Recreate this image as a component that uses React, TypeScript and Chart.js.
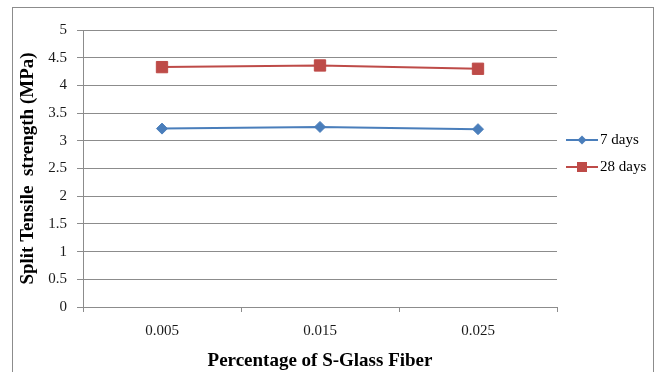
import React, { useEffect, useRef } from "react";
import { Chart, registerables } from "chart.js";

Chart.register(...registerables);

// Fibre dosage (fraction of volume) on the category axis
const fiberPercent = ["0.005", "0.015", "0.025"];

// Split tensile strength in MPa
const strength7Days = [3.22, 3.25, 3.21];
const strength28Days = [4.33, 4.36, 4.3];

const seriesNames = ["7 days", "28 days"];
const yTitle = "Split Tensile  strength (MPa)";
const xTitle = "Percentage of S-Glass Fiber";

const BLUE = "#4a7ebb";
const RED = "#be4b48";
const GRID = "#8c8c8c";
const SERIF = "'Liberation Serif', 'Times New Roman', serif";

// Excel-style legend: short line with the series marker on it, label to the right
const sideLegend = {
  id: "sideLegend",
  afterDraw(chart: any) {
    const { ctx, chartArea } = chart;
    const x0 = chartArea.right + 9;
    const x1 = chartArea.right + 41;
    const xm = (x0 + x1) / 2;
    chart.data.datasets.forEach((ds: any, i: number) => {
      const y = chartArea.top + 110 + i * 27;
      ctx.save();
      ctx.strokeStyle = ds.borderColor;
      ctx.lineWidth = 2;
      ctx.beginPath();
      ctx.moveTo(x0, y);
      ctx.lineTo(x1, y);
      ctx.stroke();
      ctx.fillStyle = ds.pointBackgroundColor;
      ctx.beginPath();
      if (ds.pointStyle === "rectRot") {
        const r = 4.5;
        ctx.moveTo(xm - r, y);
        ctx.lineTo(xm, y - r);
        ctx.lineTo(xm + r, y);
        ctx.lineTo(xm, y + r);
        ctx.closePath();
      } else {
        const s = 5;
        ctx.rect(xm - s, y - s, 2 * s, 2 * s);
      }
      ctx.fill();
      ctx.fillStyle = "#000";
      ctx.font = `15px ${SERIF}`;
      ctx.textAlign = "left";
      ctx.textBaseline = "middle";
      ctx.fillText(ds.label, x1 + 2, y);
      ctx.restore();
    });
  },
};

export default function App() {
  const canvasRef = useRef<HTMLCanvasElement | null>(null);

  useEffect(() => {
    const canvas = canvasRef.current;
    if (!canvas) return;
    const chart = new Chart(canvas, {
      type: "line",
      data: {
        labels: fiberPercent,
        datasets: [
          {
            label: seriesNames[0],
            data: strength7Days,
            borderColor: BLUE,
            backgroundColor: BLUE,
            pointBackgroundColor: BLUE,
            pointBorderColor: BLUE,
            pointStyle: "rectRot",
            pointRadius: 5.5,
            pointBorderWidth: 1,
            borderWidth: 2,
            tension: 0,
          },
          {
            label: seriesNames[1],
            data: strength28Days,
            borderColor: RED,
            backgroundColor: RED,
            pointBackgroundColor: RED,
            pointBorderColor: RED,
            pointStyle: "rect",
            pointRadius: 8,
            pointBorderWidth: 1,
            borderWidth: 2,
            tension: 0,
          },
        ],
      },
      options: {
        animation: false,
        responsive: false,
        maintainAspectRatio: false,
        layout: { padding: { left: 0, top: 30, right: 105, bottom: 0 } },
        plugins: {
          legend: { display: false },
          tooltip: { enabled: false },
        },
        scales: {
          x: {
            type: "category",
            offset: true,
            grid: {
              offset: true,
              drawOnChartArea: false,
              tickLength: 5,
              color: GRID,
              lineWidth: 1,
            },
            border: { display: true, color: GRID, width: 1 },
            ticks: {
              padding: 10,
              color: "#1a1a1a",
              font: { family: SERIF, size: 15 },
            },
            title: {
              display: true,
              text: xTitle,
              color: "#000",
              font: { family: SERIF, size: 19, weight: "bold" },
              padding: { top: 0, bottom: 0 },
            },
            afterFit(scale: any) {
              scale.height = 65;
            },
          },
          y: {
            min: 0,
            max: 5,
            ticks: {
              stepSize: 0.5,
              padding: 10,
              color: "#1a1a1a",
              font: { family: SERIF, size: 15 },
              callback: (v: any) => String(Number(v)),
            },
            grid: { color: GRID, lineWidth: 1, tickLength: 6 },
            border: { display: true, color: GRID, width: 1 },
            title: {
              display: true,
              text: yTitle,
              color: "#000",
              font: { family: SERIF, size: 19, weight: "bold" },
              padding: { top: 17, bottom: 0 },
            },
            afterFit(scale: any) {
              scale.width = 83;
            },
          },
        },
      },
      plugins: [sideLegend],
    });
    return () => chart.destroy();
  }, []);

  return (
    <div
      style={{
        position: "absolute",
        left: 0,
        top: 0,
        width: 662,
        height: 372,
        overflow: "hidden",
        background: "#fff",
      }}
    >
      <div
        style={{
          position: "absolute",
          left: 12,
          top: 7,
          width: 640,
          height: 400,
          border: `1px solid ${GRID}`,
        }}
      />
      <canvas
        ref={canvasRef}
        width={662}
        height={372}
        style={{ position: "absolute", left: 0, top: 0, width: 662, height: 372 }}
      />
    </div>
  );
}
